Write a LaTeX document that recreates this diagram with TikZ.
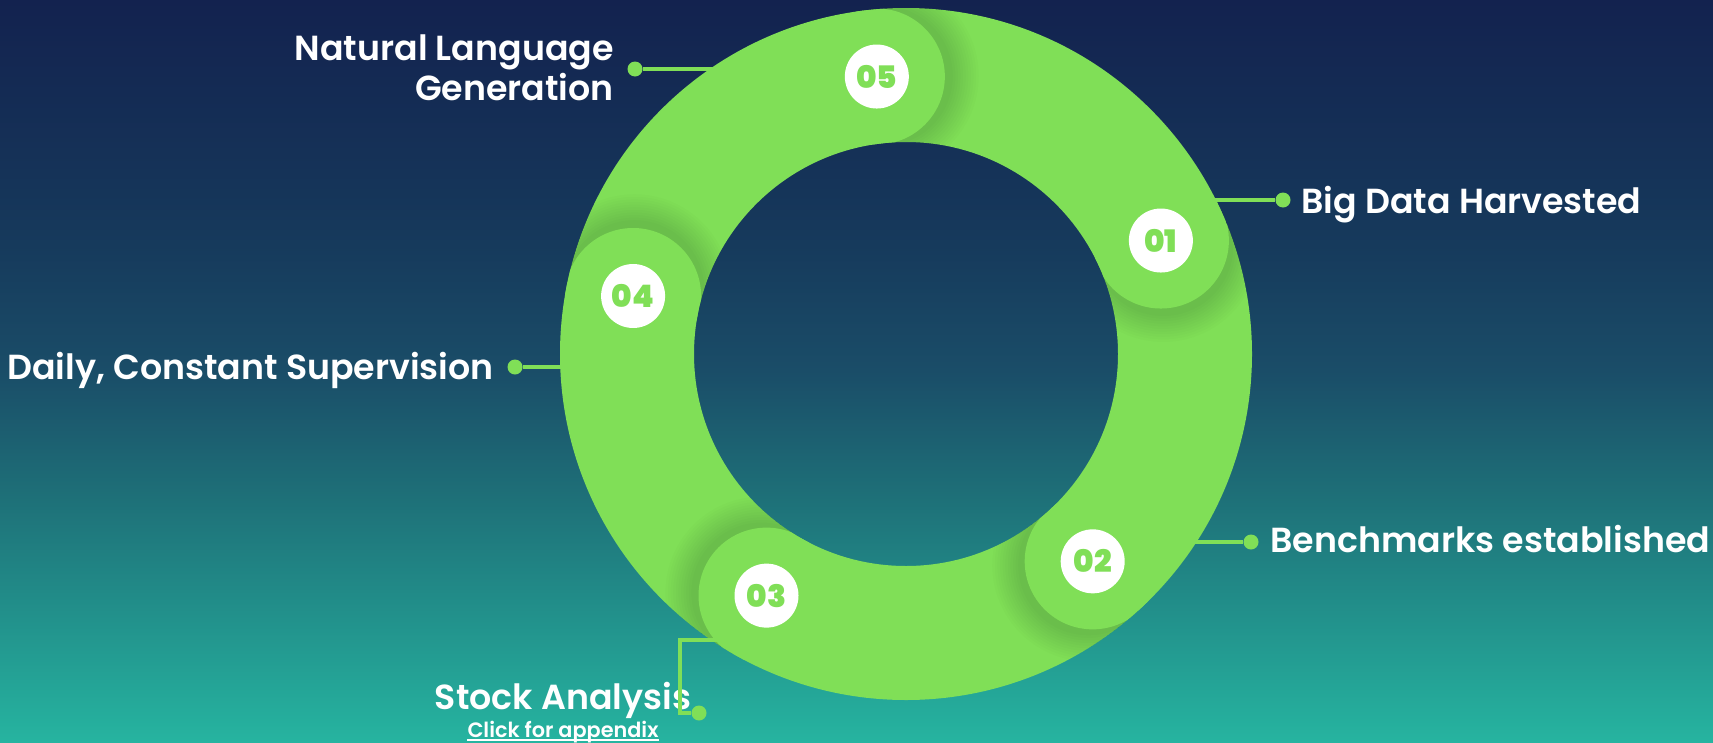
\documentclass[tikz,border=0pt]{standalone}
\usepackage{fontspec}
\setmainfont{Poppins}
\IfFontExistsTF{Poppins SemiBold}{\newfontfamily\labfont{Poppins SemiBold}}{\newcommand\labfont{\bfseries}}
\IfFontExistsTF{Poppins Black}{\newfontfamily\numfont{Poppins Black}}{%
  \IfFontExistsTF{Poppins ExtraBold}{\newfontfamily\numfont{Poppins ExtraBold}}{\newcommand\numfont{\bfseries}}}
\usetikzlibrary{calc}
\definecolor{bgA}{HTML}{13224F}
\definecolor{bgB}{HTML}{163A5C}
\definecolor{bgC}{HTML}{1A4D68}
\definecolor{bgD}{HTML}{1E7078}
\definecolor{bgE}{HTML}{26B4A0}
\definecolor{ringgreen}{HTML}{80DF57}
\pgfdeclareverticalshading{bgshade}{100bp}{color(0bp)=(bgE); color(25bp)=(bgE); color(41.5bp)=(bgD); color(50bp)=(bgC); color(58.5bp)=(bgB); color(75bp)=(bgA); color(100bp)=(bgA)}
\begin{document}
\begin{tikzpicture}[x=1pt,y=-1pt,
  lab/.style={text=white, font=\labfont\fontsize{34.8}{39.5}\selectfont, inner sep=0pt},
  badge/.style={circle, fill=white, minimum size=64pt, inner sep=0pt, text=ringgreen, font=\numfont\fontsize{31}{31}\selectfont},
  dot/.style={circle, fill=ringgreen, minimum size=15pt, inner sep=0pt},
  conn/.style={draw=ringgreen, line width=3.5pt}]
\useasboundingbox (0,0) rectangle (1713,742);
\shade[shading=bgshade] (0,0) rectangle (1713,742);
\coordinate (C) at (906,354);
\def\annulus{($(C)+(346,0)$) arc[start angle=0,end angle=360,radius=346] -- cycle ($(C)+(212,0)$) arc[start angle=360,end angle=0,radius=212] -- cycle}
\fill[ringgreen] \annulus;
% lobes with shadows (theta = screen angle, clockwise = increasing)
\foreach \th in {-96,-24,48,120,192}{
  \begin{scope}
    \clip \annulus;
    \begin{scope}
      \clip (C) -- ($(C)+(\th:700)$) -- ($(C)+(\th+70:700)$) -- cycle;
      \foreach \k in {1,...,11}{
        \fill[black, fill opacity=0.012] ($(C)+(\th+1.2:279)$) circle ({67.5+2.6*\k});
      }
    \end{scope}
    \fill[ringgreen] ($(C)+(\th:279)$) circle (68);
  \end{scope}
}
\node[badge] (b05) at ($(C)+(-96:279)$) {05};
\node[badge] (b01) at ($(C)+(-24:279)$) {01};
\node[badge] (b02) at ($(C)+(48:279)$) {02};
\node[badge] (b03) at ($(C)+(120:279)$) {03};
\node[badge] (b04) at ($(C)+(192:279)$) {04};
% labels
\node[lab, anchor=east, align=right] (nlg) at (614,68) {Natural Language\\Generation};
\node[lab, anchor=base west] (bdh) at (1301,213) {Big Data Harvested};
\node[lab, anchor=base west] (bench) at (1270,552) {Benchmarks established};
\node[lab, anchor=base east] (daily) at (494,379) {Daily, Constant Supervision};
\node[lab, anchor=base] (stock) at (563,709) {Stock Analysis};
\node[lab, anchor=base, font=\labfont\fontsize{20.8}{24}\selectfont] (click) at (563,737) {Click for appendix};
\draw[white, line width=1.8pt] ($(click.base west)+(0,3.2)$) -- ($(click.base east)+(0,3.2)$);
% dots and ring anchors
\node[dot] (d5) at (635,69) {};
\coordinate (r5) at (716,69);
\node[dot] (d1) at (1283,200) {};
\coordinate (r1) at (1210,200);
\node[dot] (d2) at (1251,542) {};
\coordinate (r2) at (1190,542);
\node[dot] (d4) at (515,367) {};
\coordinate (r4) at (566,367);
\node[dot] (d3) at (699,713) {};
\coordinate (r3) at (718,640);
\coordinate (k3) at (680,713);
% connectors
\draw[conn] (r5) -- (d5);
\draw[conn] (r1) -- (d1);
\draw[conn] (r2) -- (d2);
\draw[conn] (r4) -- (d4);
\draw[conn] (r3) -| (k3) -- (d3);
\end{tikzpicture}
\end{document}
